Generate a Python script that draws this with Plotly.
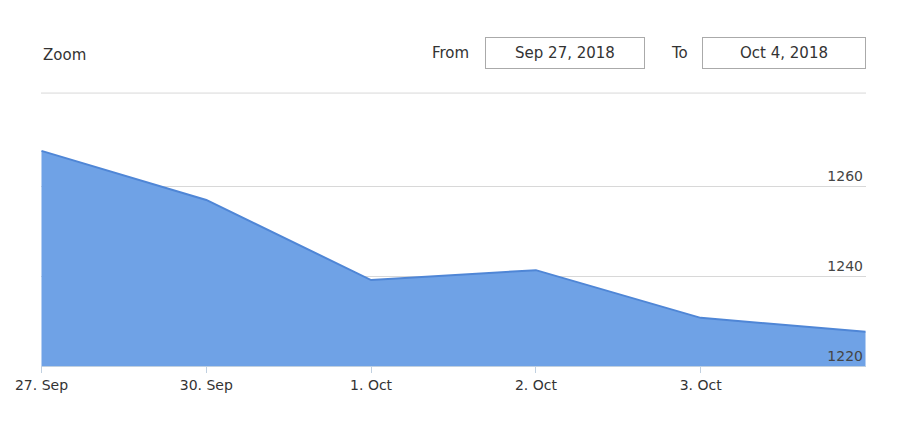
import plotly.graph_objects as go

dates = ["27. Sep", "30. Sep", "1. Oct", "2. Oct", "3. Oct", "4. Oct"]
values = [1267.8, 1256.9, 1239.1, 1241.3, 1230.7, 1227.6]
y_ticks = [1220, 1240, 1260]

x = list(range(len(dates)))
fig = go.Figure(go.Scatter(
    x=x, y=values, mode="lines", fill="tozeroy",
    line=dict(color="#4f86d6", width=2), fillcolor="#6fa2e6",
))
fig.update_layout(
    width=900, height=424, plot_bgcolor="white", paper_bgcolor="white",
    margin=dict(l=33, r=42, t=133, b=66, autoexpand=False), showlegend=False,
    font=dict(family="DejaVu Sans", size=14, color="#333"),
    xaxis=dict(range=[-0.003, 5.003], tickvals=x, ticktext=dates, showgrid=False,
               showline=True, linecolor="#c0d0e0", ticks="outside", ticklen=6,
               tickcolor="#c0d0e0", zeroline=False, fixedrange=True, automargin=False),
    yaxis=dict(range=[1220, 1270], tickvals=y_ticks, side="right",
               ticklabelposition="inside top", gridcolor="#d8d8d8",
               zeroline=False, showline=False, fixedrange=True, automargin=False),
    shapes=[dict(type="line", xref="paper", yref="paper", x0=0, x1=1,
                 y0=1.213, y1=1.213, line=dict(color="#d8d8d8", width=1))],
    annotations=[
        dict(text="Zoom", xref="paper", yref="paper", x=0, y=1.382,
             xanchor="left", yanchor="middle", showarrow=False, font=dict(size=15)),
        dict(text="From", xref="paper", yref="paper", x=0.521, y=1.391,
             xanchor="right", yanchor="middle", showarrow=False, font=dict(size=15)),
        dict(text="Sep 27, 2018", xref="paper", yref="paper", x=0.635, y=1.391,
             xanchor="center", yanchor="middle", showarrow=False, font=dict(size=15),
             bordercolor="#aaa", borderwidth=1, borderpad=6, width=146),
        dict(text="To", xref="paper", yref="paper", x=0.787, y=1.391,
             xanchor="right", yanchor="middle", showarrow=False, font=dict(size=15)),
        dict(text="Oct 4, 2018", xref="paper", yref="paper", x=0.901, y=1.391,
             xanchor="center", yanchor="middle", showarrow=False, font=dict(size=15),
             bordercolor="#aaa", borderwidth=1, borderpad=6, width=150),
    ],
)
fig.write_html("out.html")
